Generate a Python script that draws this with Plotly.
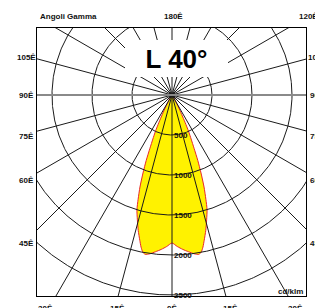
import numpy as np
import plotly.graph_objects as go

# ---------------- data ----------------
gamma_deg = [0, 2, 4, 6, 8, 9.5, 10.5, 11.5, 12.5, 14, 15.5, 17, 18, 19.2,
             20.4, 21.5, 22.5, 23.5, 24.5, 25.5, 26.5, 28, 30, 33, 38, 45]
intensity_cdklm = [1850, 1895, 1935, 1970, 2005, 2020, 2000, 1940, 1860, 1745,
                   1620, 1500, 1370, 1218, 1040, 880, 720, 600, 500, 380,
                   270, 170, 90, 40, 10, 0]

ring_values = [500, 1000, 1500, 2000, 2500]
spoke_step_deg = 15

left_labels = ["105Ê", "90Ê", "75Ê", "60Ê", "45Ê"]
bottom_labels = ["30Ê", "15Ê", "0Ê", "15Ê", "30Ê"]
top_labels = ["180Ê", "120Ê"]
corner_title = "Angoli Gamma"
big_label = "L 40°"
unit_label = "cd/klm"

# ---------------- layout geometry ----------------
W, H = 315, 308
ML, MR, MT, MB = 37, 9, 28, 12
PW, PH = W - ML - MR, H - MT - MB
CX, CY = 172, 95            # pixel position of the photometric centre
PX_PER_CD = 0.08

x_range = [-(CX - ML) / PX_PER_CD, (W - MR - CX) / PX_PER_CD]
y_range = [-(H - MB - CY) / PX_PER_CD, (CY - MT) / PX_PER_CD]


def paper(px, py):
    return (px - ML) / PW, (H - MB - py) / PH


FONT = "Liberation Sans, Arial, sans-serif"

fig = go.Figure()

# ---- intensity curve (symmetric) ----
g_full = [-g for g in gamma_deg[::-1]] + gamma_deg[1:]
i_full = intensity_cdklm[::-1] + intensity_cdklm[1:]
g_rad = np.radians(g_full)
cx = np.array(i_full) * np.sin(g_rad)
cy = -np.array(i_full) * np.cos(g_rad)
fig.add_trace(go.Scatter(x=cx, y=cy, mode="lines", fill="toself",
                         fillcolor="#FFF200",
                         line=dict(color="#E8262A", width=1, shape="spline", smoothing=0.6),
                         hoverinfo="skip", showlegend=False))

# ---- circles ----
t = np.linspace(0, 2 * np.pi, 721)
gx, gy = [], []
for r in ring_values:
    gx += list(r * np.cos(t)) + [None]
    gy += list(r * np.sin(t)) + [None]
fig.add_trace(go.Scatter(x=gx, y=gy, mode="lines",
                         line=dict(color="#1a1a1a", width=1),
                         hoverinfo="skip", showlegend=False))

# ---- spokes ----
R = 8000
sx, sy = [], []
for a in range(0, 360, spoke_step_deg):
    if a in (90, 270):
        continue
    ar = np.radians(a)
    sx += [0, R * np.sin(ar), None]
    sy += [0, -R * np.cos(ar), None]
fig.add_trace(go.Scatter(x=sx, y=sy, mode="lines",
                         line=dict(color="#1a1a1a", width=1),
                         hoverinfo="skip", showlegend=False))
# horizontal 90° line (grey)
fig.add_trace(go.Scatter(x=[-R, R], y=[0, 0], mode="lines",
                         line=dict(color="#8a8a8a", width=2),
                         hoverinfo="skip", showlegend=False))

ann = []
# ring labels
for r in ring_values:
    ann.append(dict(x=0, y=-r, xref="x", yref="y", text=f"<b>{r}</b>",
                    showarrow=False, xanchor="left", yanchor="middle", xshift=0,
                    font=dict(family=FONT, size=8, color="#111")))

# left / right angle labels
left_label_py = [57, 95, 136, 181, 243]
for txt, py in zip(left_labels, left_label_py):
    px_, py_ = paper(26, py)
    ann.append(dict(x=px_, y=py_, xref="paper", yref="paper", text=f"<b>{txt}</b>",
                    showarrow=False, xanchor="center", yanchor="middle",
                    font=dict(family=FONT, size=8, color="#111")))
    px_, py_ = paper(317, py)
    ann.append(dict(x=px_, y=py_, xref="paper", yref="paper", text=f"<b>{txt}</b>",
                    showarrow=False, xanchor="center", yanchor="middle",
                    font=dict(family=FONT, size=8, color="#111")))

# bottom labels
bottom_px = [45, 117, 172, 230, 295]
for txt, bx in zip(bottom_labels, bottom_px):
    px_, py_ = paper(bx, 308)
    ann.append(dict(x=px_, y=py_, xref="paper", yref="paper", text=f"<b>{txt}</b>",
                    showarrow=False, xanchor="center", yanchor="middle",
                    font=dict(family=FONT, size=8, color="#111")))

# top labels
for txt, tx in zip(top_labels, [173, 308]):
    px_, py_ = paper(tx, 17)
    ann.append(dict(x=px_, y=py_, xref="paper", yref="paper", text=f"<b>{txt}</b>",
                    showarrow=False, xanchor="center", yanchor="middle",
                    font=dict(family=FONT, size=8, color="#111")))
px_, py_ = paper(38, 17)
ann.append(dict(x=px_, y=py_, xref="paper", yref="paper", text=f"<b>{corner_title}</b>",
                showarrow=False, xanchor="left", yanchor="middle",
                font=dict(family=FONT, size=8, color="#111")))

# unit label
px_, py_ = paper(305, 291)
ann.append(dict(x=px_, y=py_, xref="paper", yref="paper", text=f"<b>{unit_label}</b>",
                showarrow=False, xanchor="right", yanchor="middle",
                font=dict(family=FONT, size=8, color="#111")))

# big label with white box
px_, py_ = paper(176.5, 58.5)
ann.append(dict(x=px_, y=py_, xref="paper", yref="paper", text=f"<b>{big_label}</b>",
                showarrow=False, xanchor="center", yanchor="middle",
                width=103, height=37, bgcolor="white", borderpad=0, borderwidth=0,
                valign="middle",
                font=dict(family=FONT, size=26, color="#000")))

axis_common = dict(showgrid=False, zeroline=False, showticklabels=False, ticks="",
                   showline=True, mirror=True, linecolor="#000", linewidth=1,
                   fixedrange=True)
fig.update_layout(
    width=W, height=H,
    margin=dict(l=ML, r=MR, t=MT, b=MB, pad=0),
    paper_bgcolor="white", plot_bgcolor="white",
    xaxis=dict(range=x_range, **axis_common),
    yaxis=dict(range=y_range, **axis_common),
    annotations=ann,
    showlegend=False,
)
fig.write_html("out.html", config={"displayModeBar": False},
               post_script="document.body.style.margin='0px';document.body.style.overflow='hidden';")
